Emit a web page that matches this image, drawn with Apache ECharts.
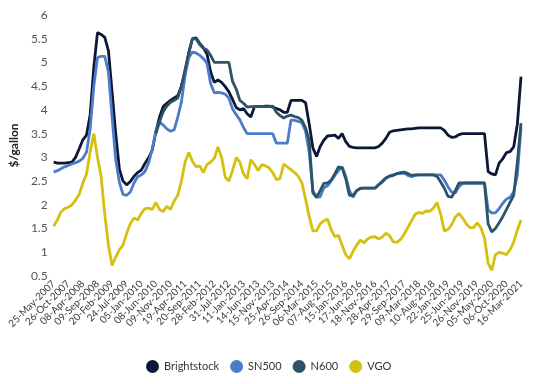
<!DOCTYPE html>
<html>
<head>
<meta charset="utf-8">
<script src="https://cdn.jsdelivr.net/npm/echarts@6/dist/echarts.min.js"></script>
<style>
html,body{margin:0;padding:0;background:#fff;}
#chart{width:548px;height:384px;}
</style>
</head>
<body>
<div id="chart"></div>
<script>
// Tick labels (every 4th sample carries one)
const tickLabels = ["25-May-2007","26-Oct-2007","08-Apr-2008","09-Sep-2008","20-Feb-2009","24-Jul-2009","05-Jan-2010","08-Jun-2010","09-Nov-2010","19-Apr-2011","20-Sep-2011","28-Feb-2012","31-Jul-2012","11-Jan-2013","14-Jun-2013","15-Nov-2013","25-Apr-2014","26-Sep-2014","06-Mar-2015","07-Aug-2015","15-Jan-2016","17-Jun-2016","18-Nov-2016","28-Apr-2017","29-Sep-2017","09-Mar-2018","10-Aug-2018","22-Jan-2019","25-Jun-2019","26-Nov-2019","05-May-2020","06-Oct-2020","16-Mar-2021"];
const samplesPerTick = 4;

const brightstock = [2.9,2.88,2.88,2.88,2.89,2.9,3.0,3.18,3.37,3.47,3.9,4.9,5.63,5.59,5.53,5.25,4.38,3.5,2.75,2.5,2.42,2.49,2.6,2.68,2.73,2.87,2.99,3.15,3.54,3.85,4.07,4.14,4.2,4.25,4.3,4.5,4.8,5.2,5.5,5.52,5.4,5.31,5.18,4.8,4.58,4.63,4.58,4.49,4.38,4.22,4.05,4.0,4.03,3.92,3.85,4.07,4.07,4.07,4.08,4.08,4.06,4.03,4.0,3.95,3.95,4.2,4.2,4.2,4.2,4.15,3.7,3.2,3.02,3.23,3.36,3.45,3.46,3.47,3.4,3.5,3.33,3.23,3.21,3.2,3.2,3.2,3.2,3.2,3.2,3.23,3.3,3.4,3.53,3.56,3.57,3.58,3.59,3.6,3.6,3.61,3.62,3.62,3.62,3.62,3.62,3.62,3.62,3.57,3.47,3.42,3.43,3.48,3.5,3.5,3.5,3.5,3.5,3.5,3.5,2.7,2.65,2.63,2.88,2.97,3.1,3.12,3.22,3.7,4.7];

const sn500 = [2.69,2.72,2.76,2.8,2.83,2.86,2.89,2.92,2.98,3.11,3.6,4.5,5.1,5.13,5.13,4.8,3.85,2.95,2.48,2.22,2.2,2.27,2.46,2.59,2.63,2.7,2.88,3.18,3.55,3.75,3.68,3.6,3.55,3.58,3.85,4.17,4.72,5.1,5.22,5.2,5.15,5.08,4.98,4.55,4.36,4.37,4.36,4.33,4.25,4.02,3.9,3.79,3.63,3.5,3.5,3.5,3.5,3.5,3.5,3.5,3.5,3.3,3.3,3.3,3.3,3.79,3.78,3.76,3.73,3.55,3.1,2.3,2.16,2.17,2.36,2.4,2.5,2.62,2.72,2.8,2.6,2.3,2.16,2.3,2.34,2.35,2.35,2.35,2.35,2.43,2.5,2.57,2.61,2.63,2.65,2.66,2.67,2.62,2.59,2.62,2.63,2.63,2.63,2.63,2.63,2.63,2.63,2.52,2.38,2.27,2.25,2.38,2.45,2.46,2.46,2.46,2.46,2.46,2.46,1.89,1.83,1.83,1.92,2.03,2.12,2.16,2.27,2.62,3.64];

const n600 = [null,null,null,null,null,null,null,null,null,null,null,null,null,null,null,null,null,null,null,null,null,null,null,null,null,null,null,null,3.5,3.75,3.96,4.08,4.16,4.2,4.25,4.5,4.85,5.2,5.5,5.5,5.38,5.3,5.26,5.15,5.0,5.0,5.0,5.0,5.0,4.6,4.44,4.2,4.14,4.06,4.07,4.07,4.07,4.07,4.07,4.07,4.08,3.95,3.88,3.83,3.87,3.89,3.86,3.84,3.78,3.62,3.35,2.25,2.16,2.3,2.45,2.46,2.52,2.65,2.8,2.78,2.55,2.2,2.2,2.3,2.35,2.35,2.35,2.35,2.35,2.42,2.48,2.56,2.6,2.62,2.66,2.68,2.69,2.66,2.62,2.63,2.63,2.63,2.63,2.63,2.63,2.6,2.48,2.35,2.18,2.16,2.3,2.46,2.46,2.46,2.46,2.46,2.46,2.46,2.46,1.6,1.43,1.5,1.62,1.75,1.9,2.05,2.2,2.9,3.72];

const vgo = [1.55,1.68,1.85,1.92,1.95,2.0,2.1,2.22,2.46,2.65,3.12,3.5,3.0,2.6,1.8,1.16,0.72,0.9,1.05,1.15,1.4,1.6,1.72,1.68,1.82,1.92,1.93,1.9,2.05,1.9,1.86,1.97,1.9,2.08,2.2,2.5,2.9,3.1,2.92,2.8,2.82,2.68,2.85,2.9,2.98,3.22,3.0,2.58,2.5,2.72,3.0,2.9,2.65,2.55,2.95,2.85,2.72,2.85,2.82,2.78,2.68,2.53,2.55,2.86,2.8,2.74,2.68,2.6,2.46,2.12,1.75,1.45,1.45,1.6,1.66,1.7,1.48,1.33,1.36,1.15,0.95,0.86,1.02,1.15,1.26,1.2,1.28,1.32,1.33,1.28,1.32,1.4,1.35,1.22,1.21,1.27,1.38,1.52,1.66,1.8,1.84,1.82,1.87,1.86,1.93,2.05,1.8,1.45,1.48,1.58,1.74,1.82,1.72,1.6,1.52,1.52,1.62,1.52,1.3,0.77,0.62,0.95,1.0,0.98,0.95,1.05,1.22,1.47,1.68];

const seriesNames = ["Brightstock","SN500","N600","VGO"];
const seriesColors = ["#0c1737","#4c7cc8","#2c5468","#d4c10e"];

const categories = brightstock.map((_, i) => {
  const t = Math.floor(i / samplesPerTick);
  return i % samplesPerTick === 0 ? tickLabels[t] : tickLabels[t] + " +" + (i % samplesPerTick);
});

const chart = echarts.init(document.getElementById('chart'), null, {renderer: 'canvas'});
const FONT = 'Lato';
const seriesData = [brightstock, sn500, n600, vgo];

chart.setOption({
  animation: false,
  backgroundColor: '#ffffff',
  grid: {left: 53, right: 27, top: 15, bottom: 108, containLabel: false},
  legend: {
    bottom: 6,
    left: 141,
    icon: 'circle',
    itemWidth: 13,
    itemHeight: 13,
    itemGap: 11,
    textStyle: {fontFamily: FONT, fontSize: 11, color: '#333'},
    data: seriesNames
  },
  xAxis: {
    type: 'category',
    boundaryGap: false,
    data: categories,
    axisLine: {show: false},
    axisTick: {show: false},
    splitLine: {show: false},
    axisLabel: {
      interval: samplesPerTick - 1,
      rotate: 45,
      margin: 6,
      fontFamily: FONT,
      fontSize: 10,
      color: '#3a3a3a',
      formatter: (v, idx) => (idx % samplesPerTick === 0 ? tickLabels[idx / samplesPerTick] : '')
    }
  },
  yAxis: {
    type: 'value',
    min: 0.5,
    max: 6,
    interval: 0.5,
    name: '$/gallon',
    nameLocation: 'middle',
    nameGap: 30,
    nameTextStyle: {fontFamily: FONT, fontSize: 12, fontWeight: 'bold', color: '#222'},
    axisLine: {show: false},
    axisTick: {show: false},
    splitLine: {show: false},
    axisLabel: {fontFamily: FONT, fontSize: 12, color: '#555', margin: 6}
  },
  series: seriesNames.map((name, i) => ({
    name: name,
    type: 'line',
    data: seriesData[i],
    showSymbol: false,
    symbol: 'circle',
    connectNulls: false,
    lineStyle: {width: 2.8, color: seriesColors[i]},
    itemStyle: {color: seriesColors[i]}
  }))
});
</script>
</body>
</html>
